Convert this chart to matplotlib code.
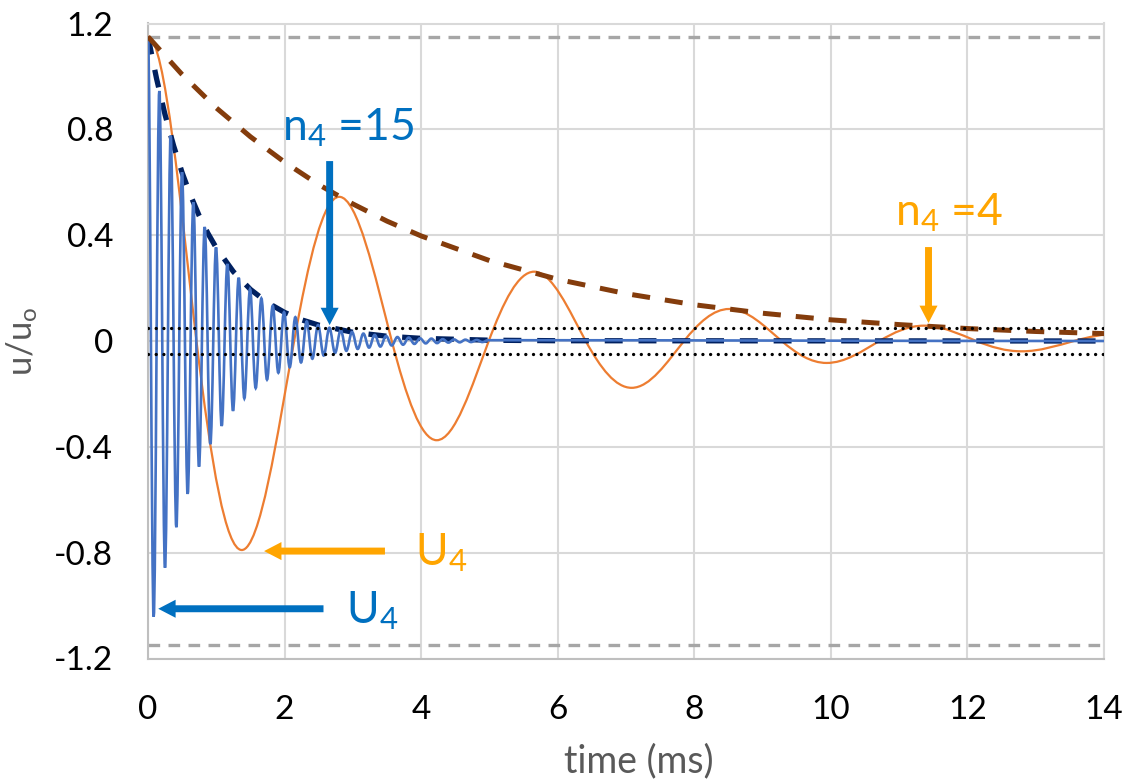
import numpy as np
import matplotlib
matplotlib.use("Agg")
import matplotlib.pyplot as plt
from matplotlib.path import Path
from matplotlib.patches import PathPatch

plt.rcParams['font.family'] = ['Lato', 'DejaVu Sans']
plt.rcParams['mathtext.fontset'] = 'custom'
plt.rcParams['mathtext.rm'] = 'Lato'
plt.rcParams['mathtext.it'] = 'Lato:italic'
plt.rcParams['axes.unicode_minus'] = False

# ---------------- data ----------------
# orange (n4 = 4) curve: extrema (time ms, u/uo) and zero crossings
orange_ext_t = [0.0, 1.373, 2.800, 4.228, 5.655, 7.083, 8.510, 9.938, 11.365, 12.793, 14.220]
orange_ext_v = [1.150, -0.790, 0.545, -0.375, 0.262, -0.177, 0.121, -0.083, 0.058, -0.039, 0.027]
orange_zero_t = [0.71, 2.14, 3.57, 4.99, 6.41, 7.85, 9.28, 10.71, 12.13, 13.56]

# blue (n4 = 15) curve: extrema (time ms, u/uo), then flat to 14 ms
blue_ext_t = [0.000, 0.083, 0.166, 0.249, 0.332, 0.415, 0.498, 0.581, 0.664, 0.747,
              0.830, 0.913, 0.996, 1.079, 1.162, 1.245, 1.328, 1.411, 1.494, 1.577,
              1.660, 1.743, 1.826, 1.909, 1.992, 2.075, 2.158, 2.241, 2.324, 2.407,
              2.490, 2.573, 2.656, 2.739, 2.822, 2.905, 2.988, 3.071, 3.154, 3.237,
              3.320, 3.403, 3.486, 3.569, 3.652, 3.735, 3.818, 3.901, 3.984, 4.067,
              4.150, 4.233, 4.316, 4.399, 4.482, 4.565, 4.648, 4.731, 4.814, 4.897,
              4.980, 14.0]
blue_ext_v = [1.150, -1.042, 0.945, -0.857, 0.776, -0.704, 0.638, -0.578, 0.524, -0.475,
              0.431, -0.390, 0.354, -0.321, 0.291, -0.264, 0.239, -0.217, 0.196, -0.178,
              0.161, -0.146, 0.133, -0.120, 0.109, -0.099, 0.090, -0.081, 0.074, -0.067,
              0.060, -0.055, 0.050, -0.045, 0.041, -0.037, 0.034, -0.030, 0.028, -0.025,
              0.023, -0.021, 0.019, -0.017, 0.015, -0.014, 0.013, -0.011, 0.010, -0.009,
              0.009, -0.008, 0.007, -0.006, 0.006, -0.005, 0.005, -0.004, 0.004, -0.004,
              0.003, 0.0]

# decay envelopes
orange_env_t = [0, 0.5, 1, 1.5, 2, 2.5, 3, 3.5, 4, 5, 6, 7, 8, 9, 10, 11, 12, 13, 14]
orange_env_v = [1.150, 1.007, 0.881, 0.772, 0.676, 0.591, 0.518, 0.453, 0.397, 0.304,
                0.233, 0.179, 0.137, 0.105, 0.080, 0.062, 0.047, 0.036, 0.028]
blue_env_t = [0, 0.125, 0.25, 0.375, 0.5, 0.625, 0.75, 0.875, 1, 1.25, 1.5, 1.75, 2,
              2.25, 2.5, 3, 3.5, 4, 5, 6, 14]
blue_env_v = [1.150, 0.992, 0.855, 0.738, 0.636, 0.549, 0.473, 0.408, 0.352, 0.262,
              0.195, 0.145, 0.108, 0.080, 0.060, 0.033, 0.018, 0.010, 0.003, 0.001, 0.0]

limit_level = 1.15      # grey dashed bounds
band_level = 0.05       # dotted band

xticks = [0, 2, 4, 6, 8, 10, 12, 14]
xtick_labels = ['0', '2', '4', '6', '8', '10', '12', '14']
yticks = [1.2, 0.8, 0.4, 0.0, -0.4, -0.8, -1.2]
ytick_labels = ['1.2', '0.8', '0.4', '0', '-0.4', '-0.8', '-1.2']

# ---------------- colours ----------------
C_ORANGE = '#ED7D31'
C_BLUE = '#4472C4'
C_BROWN = '#843C0C'
C_NAVY = '#002060'
C_TXT_BLUE = '#0070C0'
C_TXT_ORANGE = '#FFA500'
C_GRID = '#D9D9D9'
C_LABEL = '#595959'


def halfwave_path(ts, vs):
    """Smooth path through alternating extrema (horizontal tangents)."""
    c = 0.364
    verts = [(ts[0], vs[0])]
    codes = [Path.MOVETO]
    for i in range(len(ts) - 1):
        t0, v0, t1, v1 = ts[i], vs[i], ts[i + 1], vs[i + 1]
        dt = t1 - t0
        verts += [(t0 + c * dt, v0), (t1 - c * dt, v1), (t1, v1)]
        codes += [Path.CURVE4] * 3
    return Path(verts, codes)


def quarterwave_path(ts, vs, zs):
    """Smooth path through extrema and zero crossings."""
    a, b = 0.350, 0.3261
    verts = [(ts[0], vs[0])]
    codes = [Path.MOVETO]
    for i in range(len(ts) - 1):
        t0, v0, t1, v1 = ts[i], vs[i], ts[i + 1], vs[i + 1]
        z = zs[i]
        d1, d2 = z - t0, t1 - z
        m = np.sqrt(abs(v0 * v1)) * np.sign(v1)
        slope = (np.pi / 2) * m / ((d1 + d2) / 2)
        verts += [(t0 + a * d1, v0), (z - b * d1, -slope * b * d1), (z, 0.0)]
        codes += [Path.CURVE4] * 3
        verts += [(z + b * d2, slope * b * d2), (t1 - a * d2, v1), (t1, v1)]
        codes += [Path.CURVE4] * 3
    return Path(verts, codes)


fig = plt.figure(figsize=(11.27, 7.81), dpi=100)
ax = fig.add_axes([148 / 1127, 1 - 658.5 / 781, (1104 - 148) / 1127, (658.5 - 23.5) / 781])
ax.set_xlim(0, 14)
ax.set_ylim(-1.2, 1.2)

ax.set_xticks(xticks)
ax.set_xticklabels(xtick_labels)
ax.set_yticks(yticks)
ax.set_yticklabels(ytick_labels)
ax.tick_params(axis='both', length=0, labelsize=24, colors='black')
ax.tick_params(axis='x', pad=26)
ax.tick_params(axis='y', pad=25)
ax.grid(True, color=C_GRID, lw=1.5, zorder=0)
ax.set_axisbelow(True)
for sp in ax.spines.values():
    sp.set_color(C_GRID)
    sp.set_linewidth(1.5)
ax.spines['left'].set_color('#BFBFBF')
ax.spines['bottom'].set_color('#BFBFBF')

# reference lines
for lv in (limit_level, -limit_level):
    ax.plot([0, 14], [lv, lv], color='#A6A6A6', lw=2.4, dashes=(3.5, 2.5), zorder=1)
for lv in (band_level, -band_level):
    ax.plot([0, 14], [lv, lv], color='black', lw=2.4, dashes=(0.01, 2.3),
            dash_capstyle='round', zorder=5)

# orange curve
ax.add_patch(PathPatch(quarterwave_path(orange_ext_t, orange_ext_v, orange_zero_t),
                       fill=False, ec=C_ORANGE, lw=1.6, zorder=3))
# navy envelope (under the blue line)
ax.plot(blue_env_t, blue_env_v, color=C_NAVY, lw=3.8, dashes=(3.4, 3.0), zorder=3.5)
# blue curve
ax.add_patch(PathPatch(halfwave_path(blue_ext_t, blue_ext_v),
                       fill=False, ec=C_BLUE, lw=1.9, zorder=4))
# brown envelope
ax.plot(orange_env_t, orange_env_v, color=C_BROWN, lw=3.6, dashes=(3.6, 3.0), zorder=4.5)

# arrows
def arrow(x0, y0, x1, y1, col):
    ax.annotate('', xy=(x1, y1), xytext=(x0, y0),
                arrowprops=dict(arrowstyle='simple,head_length=1.25,head_width=1.3,tail_width=0.5',
                                fc=col, ec='none', lw=0, shrinkA=0, shrinkB=0,
                                mutation_scale=10), zorder=6)

arrow(2.66, 0.680, 2.66, 0.060, C_TXT_BLUE)
arrow(11.43, 0.355, 11.43, 0.068, C_TXT_ORANGE)
arrow(3.47, -0.794, 1.70, -0.794, C_TXT_ORANGE)
arrow(2.57, -1.012, 0.15, -1.012, C_TXT_BLUE)

ax.text(1.962, 0.758, r'n$_4$ =15', color=C_TXT_BLUE, fontsize=32, ha='left', va='baseline', zorder=7)
ax.text(10.94, 0.437, r'n$_4$ =4', color=C_TXT_ORANGE, fontsize=32, ha='left', va='baseline', zorder=7)
ax.text(3.91, -0.848, r'U$_4$', color=C_TXT_ORANGE, fontsize=32, ha='left', va='baseline', zorder=7)
ax.text(2.90, -1.067, r'U$_4$', color=C_TXT_BLUE, fontsize=32, ha='left', va='baseline', zorder=7)

fig.text(639 / 1127, 1 - 761 / 781, 'time (ms)', ha='center', va='center',
         color=C_LABEL, fontsize=27)
fig.text(22 / 1127, 1 - 341 / 781, r'u/u$_\mathregular{o}$', ha='center', va='center',
         rotation=90, color=C_LABEL, fontsize=25)

fig.savefig('out.png', dpi=100)
